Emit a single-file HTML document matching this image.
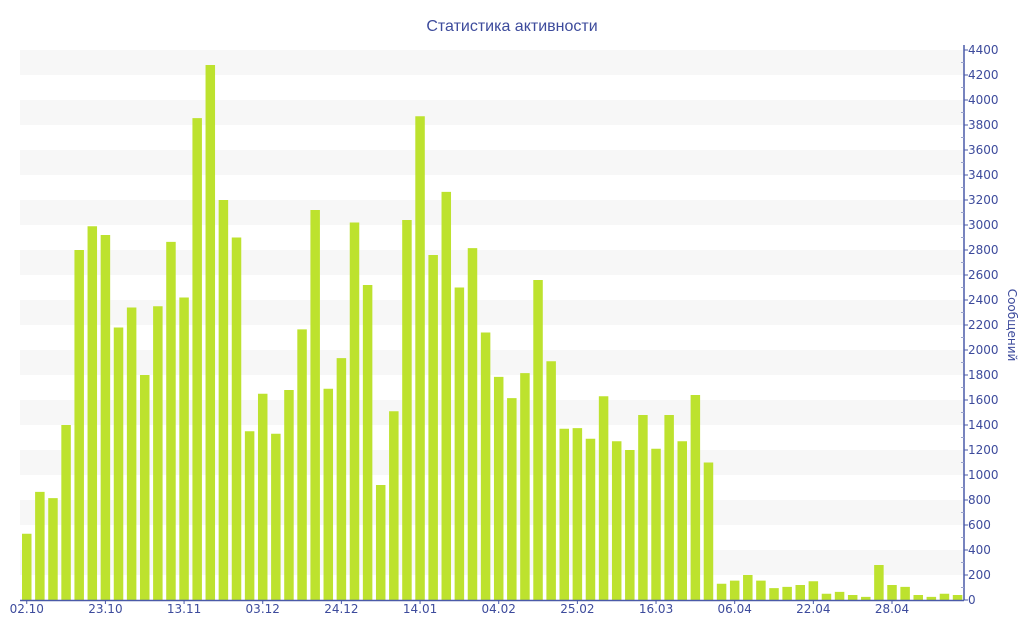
<!DOCTYPE html>
<html><head><meta charset="utf-8">
<style>
body{margin:0;background:#fff;}
svg{display:block;font-family:"Liberation Sans","DejaVu Sans",sans-serif;}
.dv{font-family:"DejaVu Sans",sans-serif;}
</style></head>
<body>
<svg id="chart" width="1024" height="640" xmlns="http://www.w3.org/2000/svg">
<text x="512" y="31" text-anchor="middle" font-size="16" fill="#3d4b9c">Статистика активности</text>
<g id="bands"></g><g id="bars"></g><g id="axes" class="dv"></g>
<text class="dv" transform="translate(1008,325) rotate(90)" text-anchor="middle" font-size="12" fill="#3d4b9c">Сообщений</text>
</svg>
<script>
const values=[530,865,815,1400,2800,2990,2920,2180,2340,1800,2350,2865,2420,3855,4280,3200,2900,1350,1650,1330,1680,2165,3120,1690,1935,3020,2520,920,1510,3040,3870,2760,3265,2500,2815,2140,1785,1615,1815,2560,1910,1370,1375,1290,1630,1270,1200,1480,1210,1480,1270,1640,1100,130,155,200,155,95,105,120,150,50,65,40,25,280,120,105,40,25,50,40];
const xLabels=["02.10","23.10","13.11","03.12","24.12","14.01","04.02","25.02","16.03","06.04","22.04","28.04"];
const yTicks=[0,200,400,600,800,1000,1200,1400,1600,1800,2000,2200,2400,2600,2800,3000,3200,3400,3600,3800,4000,4200,4400];
const NS="http://www.w3.org/2000/svg";
const x0=20,x1=964,y0=600,yTop=50,yMax=4400,step=13.11,bw=9.5;
const y=v=>y0-(v/yMax)*(y0-yTop);
const bx=i=>22+i*step;
function mk(t,a,p){const e=document.createElementNS(NS,t);for(const k in a)e.setAttribute(k,a[k]);p.appendChild(e);return e;}
const bands=document.getElementById('bands'),bars=document.getElementById('bars'),axes=document.getElementById('axes');
for(let v=200;v<yMax;v+=400){const r=mk('rect',{x:x0,y:y(v+200),width:x1-x0,height:y(v)-y(v+200),fill:'#f7f7f7'},bands);

}
values.forEach((v,i)=>{const r=mk('rect',{x:bx(i),y:y(v),width:bw,height:y0-y(v),fill:'#bde22e'},bars);

});
mk('line',{x1:x0,y1:y0+0.5,x2:x1,y2:y0+0.5,stroke:'#4a5aa8','stroke-width':1.5},axes);
mk('line',{x1:x1,y1:yTop-5,x2:x1,y2:y0,stroke:'#4a5aa8','stroke-width':1.5},axes);
for(let v=100;v<yMax;v+=200){mk('line',{x1:x1-3,y1:y(v),x2:x1,y2:y(v),stroke:'#9aa3cc'},axes);}
yTicks.forEach(v=>{mk('line',{x1:x1,y1:y(v),x2:x1+4,y2:y(v),stroke:'#4a5aa8'},axes);
const t=mk('text',{x:x1+4,y:y(v)+4,'font-size':12,fill:'#3d4b9c'},axes);t.textContent=v;

});
xLabels.forEach((s,k)=>{const cx=bx(k*6)+bw/2;
mk('line',{x1:cx,y1:y0,x2:cx,y2:y0+4,stroke:'#4a5aa8'},axes);
const t=mk('text',{x:cx,y:y0+13,'font-size':12,'text-anchor':'middle',fill:'#3d4b9c'},axes);t.textContent=s;

});
</script>
</body></html>
